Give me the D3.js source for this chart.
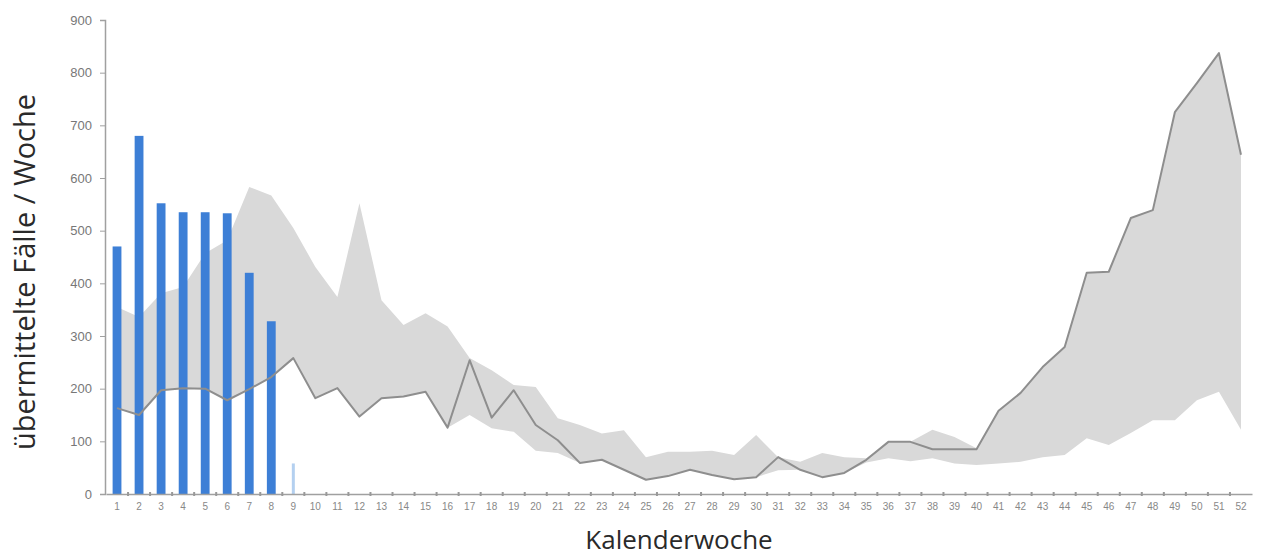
<!DOCTYPE html>
<html>
<head>
<meta charset="utf-8">
<script src="https://cdn.jsdelivr.net/npm/d3@7"></script>
<style>
  html, body { margin: 0; padding: 0; background: #fff; }
  svg { display: block; }
</style>
</head>
<body>
<svg id="chart" width="1264" height="559"></svg>
<script>
// ---- data ----
const weeks = d3.range(1, 53);
const yTicks = [0, 100, 200, 300, 400, 500, 600, 700, 800, 900];
// current season, reported cases per week (weeks 1-8), week 9 incomplete
const barWeeks = [1, 2, 3, 4, 5, 6, 7, 8];
const barValues = [470, 680, 552, 535, 535, 533, 420, 328];
const partialWeek = 9;
const partialValue = 58;
// previous season (line)
const lineValues = [163, 150, 197, 201, 200, 178, 199, 222, 258, 182, 201, 147, 182, 185, 194, 126,
  254, 145, 197, 131, 102, 59, 65, 46, 27, 34, 46, 36, 28, 32, 70, 46, 32, 40, 65, 99,
  99, 85, 85, 85, 158, 192, 241, 279, 420, 422, 524, 539, 725, 780, 837, 644];
// range of previous seasons (grey band)
const bandUpper = [355, 336, 381, 393, 457, 482, 583, 567, 505, 431, 374, 552, 368, 321, 343, 318,
  258, 235, 207, 203, 144, 131, 115, 121, 70, 80, 80, 82, 74, 112, 70, 61, 78, 70, 68, 99,
  99, 122, 108, 87, 158, 192, 241, 279, 420, 422, 524, 539, 725, 780, 837, 644];
const bandLower = [163, 150, 197, 201, 200, 178, 199, 222, 258, 182, 201, 147, 182, 185, 194, 126,
  150, 125, 118, 82, 78, 59, 65, 46, 27, 34, 46, 36, 28, 32, 45, 46, 32, 40, 60, 68,
  62, 68, 58, 55, 58, 61, 70, 74, 106, 93, 116, 140, 140, 178, 194, 122];

// ---- layout ----
const svg = d3.select("#chart");
const x = d3.scaleBand().domain(weeks).range([106, 1252]).paddingInner(0.6).paddingOuter(0.3);
const cx = w => x(w) + x.bandwidth() / 2;
const y = d3.scaleLinear().domain([0, 900]).range([494, 20]);

// grey band
const band = weeks.map((w, i) => ({ w, hi: bandUpper[i], lo: bandLower[i] }));
svg.append("path")
  .datum(band)
  .attr("fill", "#d9d9d9")
  .attr("d", d3.area().x(d => cx(d.w)).y0(d => y(d.lo)).y1(d => y(d.hi)));

// bars
const bars = barWeeks.map((w, i) => ({ w, v: barValues[i] }));
svg.selectAll("rect.bar").data(bars).join("rect")
  .attr("class", "bar")
  .attr("x", d => x(d.w))
  .attr("width", x.bandwidth())
  .attr("y", d => y(d.v))
  .attr("height", d => y(0) - y(d.v))
  .attr("fill", "#3d7fd6");

// partial week bar
svg.append("rect")
  .attr("x", cx(partialWeek) - 1.5)
  .attr("width", 3)
  .attr("y", y(partialValue))
  .attr("height", y(0) - y(partialValue))
  .attr("fill", "#b4d0f0");

// line
svg.append("path")
  .datum(weeks.map((w, i) => ({ w, v: lineValues[i] })))
  .attr("fill", "none")
  .attr("stroke", "#8e8e8e")
  .attr("stroke-width", 2)
  .attr("stroke-linejoin", "round")
  .attr("d", d3.line().x(d => cx(d.w)).y(d => y(d.v)));

// y axis
const yAxis = svg.append("g").attr("transform", "translate(105,0)")
  .call(d3.axisLeft(y).tickValues(yTicks).tickSize(5).tickPadding(8));
yAxis.select(".domain").attr("stroke", "#a0a0a0").attr("stroke-width", 1.5);
yAxis.selectAll(".tick line").attr("stroke", "#a0a0a0");
yAxis.selectAll(".tick text").attr("fill", "#777").style("font-family", "Liberation Sans, Arial, sans-serif").style("font-size", "13px");

// x axis
const xAxis = svg.append("g").attr("transform", "translate(0,494)")
  .call(d3.axisBottom(x).tickSize(0).tickPadding(9));
xAxis.select(".domain").attr("stroke", "#a0a0a0").attr("stroke-width", 1.5);
xAxis.selectAll(".tick text").attr("fill", "#888").style("font-family", "Liberation Sans, Arial, sans-serif").style("font-size", "10px");
// boundary tick marks
const bounds = weeks.slice(1).map(w => x(w) - x.step() * x.paddingInner() / 2);
xAxis.selectAll("line.bt").data(bounds).join("line")
  .attr("class", "bt")
  .attr("x1", d => d).attr("x2", d => d)
  .attr("y1", -2).attr("y2", 2)
  .attr("stroke", "#999").attr("stroke-width", 2);

// axis titles
svg.append("text")
  .attr("transform", "translate(35,272) rotate(-90)")
  .attr("text-anchor", "middle")
  .attr("fill", "#2a2a2a")
  .style("font-family", "Open Sans, sans-serif")
  .style("font-size", "29px")
  .text("übermittelte Fälle / Woche");

svg.append("text")
  .attr("x", 679).attr("y", 549)
  .attr("text-anchor", "middle")
  .attr("fill", "#2a2a2a")
  .style("font-family", "Open Sans, sans-serif")
  .style("font-size", "26px")
  .text("Kalenderwoche");
</script>
</body>
</html>
